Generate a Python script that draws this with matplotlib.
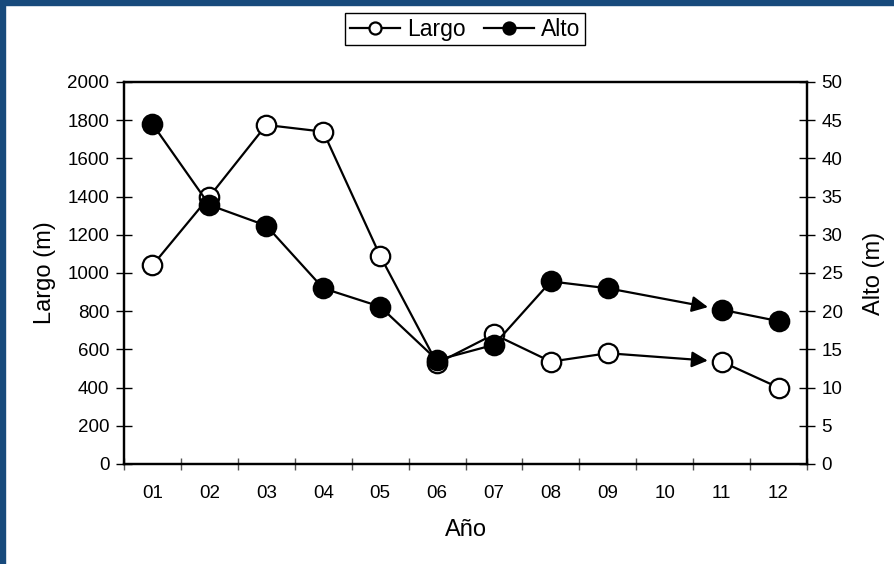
import numpy as np
import matplotlib
matplotlib.use("Agg")
import matplotlib.pyplot as plt
from matplotlib.patches import Rectangle

plt.rcParams['font.family'] = ['Liberation Sans', 'DejaVu Sans']

# datos
anios = ['01', '02', '03', '04', '05', '06', '07', '08', '09', '10', '11', '12']
largo = [1040, 1400, 1775, 1740, 1090, 527, 679, 536, 580, np.nan, 536, 400]
alto = [44.5, 33.9, 31.2, 23.0, 20.6, 13.6, 15.6, 23.9, 23.0, np.nan, 20.2, 18.7]

fig = plt.figure(figsize=(8.94, 5.64), dpi=100)
ax = fig.add_axes([124/894, 1-464/564, (807-124)/894, (464-82)/564])
ax2 = ax.twinx()

# borde azul de la diapositiva
fig.patches.append(Rectangle((0, 1-5/564), 1, 5/564, transform=fig.transFigure,
                             color='#174a7c', zorder=0))
fig.patches.append(Rectangle((0, 0), 5/894, 1, transform=fig.transFigure,
                             color='#174a7c', zorder=0))

x = np.arange(1, len(anios)+1)
l1, = ax.plot(x, largo, '-o', color='black', lw=1.6, mfc='white', mec='black',
              mew=1.6, ms=14, label='Largo', zorder=3)
l2, = ax2.plot(x, alto, '-o', color='black', lw=1.6, mfc='black', mec='black',
               mew=1.6, ms=14, label='Alto', zorder=3)

# flechas 09 -> 11
arr = dict(arrowstyle='-|>', color='black', lw=1.6, mutation_scale=24,
           shrinkA=0, shrinkB=10)
ax.annotate('', xy=(11, largo[10]), xytext=(9, largo[8]), arrowprops=arr, zorder=2)
ax2.annotate('', xy=(11, alto[10]), xytext=(9, alto[8]), arrowprops=arr, zorder=2)

ax.set_xlim(0.5, 12.5)
ax.set_ylim(0, 2000)
ax.set_yticks(np.arange(0, 2001, 200))
ax2.set_ylim(0, 50)
ax2.set_yticks(np.arange(0, 51, 5))

ax.set_xticks(np.arange(0.5, 12.6, 1))
ax.set_xticklabels([])
ax.set_xticks(x, minor=True)
ax.set_xticklabels(anios, minor=True)
ax.tick_params(axis='x', which='minor', length=0, pad=15, labelsize=13.5)
ax.tick_params(axis='x', which='major', direction='inout', length=9, width=1,
               color='#555555')
ax.tick_params(axis='y', direction='inout', length=11, width=1, pad=5,
               labelsize=13.5)
ax2.tick_params(axis='y', direction='inout', length=11, width=1, pad=5,
                labelsize=13.5)

for a in (ax, ax2):
    for s in a.spines.values():
        s.set_linewidth(1.6)

ax.set_xlabel('Año', fontsize=17, labelpad=12)
ax.set_ylabel('Largo (m)', fontsize=17, labelpad=8)
ax2.set_ylabel('Alto (m)', fontsize=17, labelpad=15)

leg = fig.legend(handles=[l1, l2], loc='upper center',
                 bbox_to_anchor=(465/894, 1-13/564), ncol=2, fontsize=16.5,
                 markerscale=0.62, handlelength=2.2, handletextpad=0.3,
                 columnspacing=0.8, fancybox=False, framealpha=1,
                 borderpad=0.2, borderaxespad=0)
leg.get_frame().set_edgecolor('black')
leg.get_frame().set_linewidth(1.0)

fig.savefig('out.png', dpi=100, facecolor='white')
